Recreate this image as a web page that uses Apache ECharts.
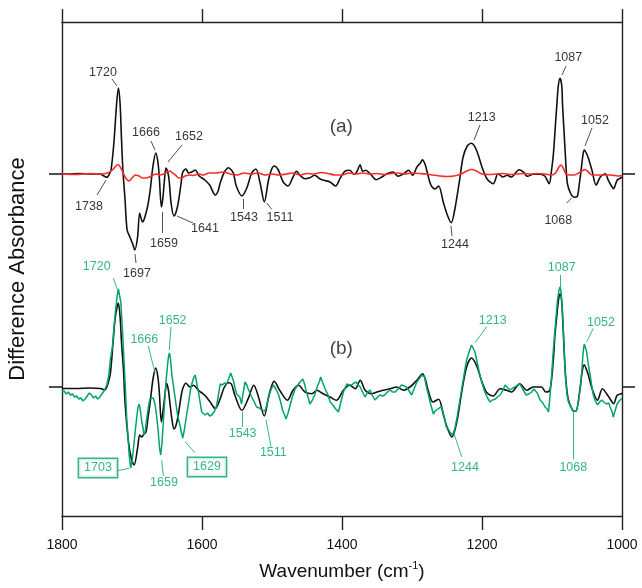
<!DOCTYPE html>
<html><head><meta charset="utf-8">
<script src="https://cdn.jsdelivr.net/npm/echarts@6/dist/echarts.min.js"></script>
<style>html,body{margin:0;padding:0;background:#fff}#c{width:642px;height:588px}</style>
</head><body><div id="c"></div>
<script>
// ---- data (difference absorbance, arbitrary units) ----
const OFFSET_A = 213;   // vertical offset of spectrum set (a)
const OFFSET_B = 0;     // vertical offset of spectrum set (b)
const xTicks = [1800, 1600, 1400, 1200, 1000];

const blackA_wn = [1800,1790,1775,1760,1746,1740,1736,1733,1730,1726,1722,1719.5,1717,1715,1713,1710,1707,1703,1699,1696,1692,1689,1685,1683,1680,1677,1674,1670,1666,1663,1661,1658,1656,1654,1651.5,1649,1647,1644,1640,1637,1634,1630,1627.5,1623,1619,1614,1609.5,1604,1596,1589,1585,1581,1577,1574,1568,1562,1558,1555,1551,1543,1536,1529,1523,1517,1511,1505,1501,1497,1491,1484,1477,1470,1465,1460,1453,1446,1439,1432,1426,1417,1409,1403,1396,1389,1383,1379,1374,1370.5,1366,1360,1351,1343,1336,1327,1320,1312,1305,1299,1293,1288,1285,1281,1279,1273,1267,1262,1255,1249,1244,1239,1232,1227,1221,1215,1208,1200,1193,1184,1177,1170,1164,1158,1147,1141,1135,1127,1117,1110,1104,1101,1098,1095,1093,1091,1088.5,1086,1085,1083,1081,1078,1073,1068,1064,1061,1059,1056,1054,1051,1048,1043,1037,1031,1024,1019.5,1015,1012,1007,1001,1000];
const blackA_val = [0,0,0.5,0,0,-2,-3.3,-1,4,30,70,86,70,35,4,-25,-56,-63,-70,-76,-63,-39,-48,-46,-39,-30,-16,8,21,12,-3,-33,-25,-9,6,2,-6,-30,-42,-38,-29,-10,2,5,1,2.3,4,-2,-6,-11,-17,-21,-17,-9,2,6.3,4,0.7,-12,-22,-14,1,5,-9,-28,-6,4,8,4,-8,-12,-3,2.7,-1.3,-4.7,-3.7,-1.3,-4.7,-6.3,-8,-12,-4.7,2.7,3.7,-0.3,2,9.3,2.7,3.7,0.3,-5.7,-3,0.3,2,-2.3,0.3,3.7,-1.3,7,11,14.3,9,3.7,-11,-15,-12,-29,-42,-48.7,-36,-6,17,28,30.7,24,7,-4.7,-9.7,0.3,-3,-1.3,-3,4.3,2,-2.3,-0.3,-0.3,-2.3,-9.7,2,20,50,70,88,95.7,88,70,45,20,-9.7,-20,-23.3,-22.7,-10,0.3,18,24,21,15.7,4,-11,-3,0.3,-6.3,-12,-14.7,-6.3,-3.7,-3];

const redA_wn = [1800,1780,1760,1745,1735,1728,1723,1720,1716,1712,1708,1704,1700,1695,1690,1685,1680,1675,1670,1665,1660,1655,1650,1646,1642,1638,1633,1629,1624,1618,1612,1605,1598,1590,1580,1570,1560,1550,1540,1530,1520,1510,1500,1490,1480,1470,1460,1450,1440,1430,1420,1410,1400,1390,1380,1370,1360,1350,1340,1330,1320,1310,1300,1290,1280,1270,1260,1250,1240,1230,1222,1215,1208,1200,1190,1180,1170,1160,1150,1140,1130,1120,1110,1100,1095,1090,1087,1084,1080,1075,1068,1062,1057,1053,1048,1043,1035,1025,1018,1010,1005,1000];
const redA_val = [0,-0.5,0.5,0,1,4,8,9.5,6,0,-5,-7,-4,-1,-2,-4,-4,-3,-1,0,-1,0,2,3,1,-1,-4,-4,-2,-1,-1.5,0,-1,1,1,2,0,-1,1,0,1,-1,0,-1,0,1,-1,0.5,0,1.5,0.5,-1,-1,1,0,1,0,0.5,-0.5,0.5,1,0,1,0.5,0,-1,-2,-2.5,-2,0,3,4.5,3,0,-0.5,0,0.5,-0.5,0,0.5,0,0.5,0,-1,1,7,9,6,0,-1,-1,1,3,4.5,2,-1,-1,-1,-1,-1.5,-2,-1.5];

const blackB_wn = [1800,1780,1760,1745,1739,1735,1731,1727,1724,1719.5,1717,1715,1712,1710,1705,1700.5,1697,1692,1689,1686,1683,1680,1677,1674,1670,1666,1663,1661,1658,1655,1653,1650.5,1648,1646,1643,1640,1637,1634,1630,1627.5,1623,1617,1612,1605,1596,1589,1581,1574,1568,1562,1558,1553,1543,1534,1526,1520,1511,1505,1501,1497,1489,1478,1470,1462,1453,1443,1436,1427,1417,1408,1398,1389,1381,1374,1367,1358,1350,1341,1331,1322,1312,1303,1293,1285,1281,1277,1270,1262,1255,1249,1243,1236,1229,1222,1215,1208,1200,1193,1184,1174,1165,1158,1146,1136,1127,1115,1109,1103,1098,1096,1093,1090.5,1088.5,1086.5,1085,1081,1077,1070.5,1066,1060,1057,1054,1051,1048,1042,1035,1028,1022,1017,1012,1007,1001,1000];
const blackB_val = [-1.5,-1.5,-1,-1.5,-3,2,13,45,69,84,70,45,15,-15,-55,-73,-78,-61,-48,-50,-47,-45,-30,-15,8,19,10,-5,-35,-20,-8,3.7,-3,-15,-32,-42,-38,-28,-10,-1.6,3.7,0,1.7,-3.3,-8.3,-14.3,-21.7,-11.7,0,4.3,3,-8.3,-23.3,-11.7,1.7,-8.3,-29,-10,0,5.7,-3.3,-13.3,-3.3,1.7,-5,-6.7,-3.3,-6.7,-10,-13.3,-3.3,1.7,-1.7,6.7,-3.3,-6.7,-5,-3.3,-1.7,0,-3.3,0,6.7,13.3,8,-3.3,-15,-12.3,-28.3,-42,-50,-35,-5,20,29,21.7,5,-5.7,-9,-1.7,-3.3,-5,3.3,-3.3,0,0,-5,-3.3,28,50,72,88,93,88,72,15,-11.7,-23.3,-24.3,-1.7,15,22.3,18,11.7,-3.3,-13.3,-1.7,-6.7,-12,-16.7,-8.3,-6.7,-6];

const greenB_wn = [1800,1797,1794,1791,1788,1785,1782,1779,1776,1773,1770,1767,1764,1761,1758,1755,1752,1749,1746,1743,1740,1736,1733,1731,1728,1726,1723,1721,1719.5,1718,1716,1713.5,1711.5,1709.5,1707.5,1705.5,1704,1702,1700,1698,1695.5,1693.5,1691.5,1689.5,1688,1686,1684,1683,1681,1679,1677,1674.5,1672,1669.5,1667,1665,1662.5,1660.5,1659,1657,1655,1653,1651.5,1649.5,1648,1646.5,1645,1643,1641,1639,1637,1635,1633,1631.5,1629.5,1627.5,1625,1622,1619,1617,1615,1612.5,1610,1608.5,1606.5,1605,1603,1600.5,1598,1595.5,1592,1589,1586,1582,1579,1576.5,1574,1571,1568,1565,1562,1559,1557.5,1555,1552.5,1550.5,1548,1546,1543.5,1541,1538.5,1536,1534,1531.5,1529,1526,1522,1518,1515,1512.5,1510,1507,1504,1501,1498,1494.5,1491,1488,1485,1482,1480,1477,1474,1471,1467,1463,1460,1456,1453,1451,1448,1446,1443,1439,1435,1432,1430.5,1428,1424,1420,1417,1413,1409,1405,1402,1398,1395,1393,1390,1386,1383,1380,1377,1374,1370,1367,1364,1360,1357,1353,1349,1346,1342,1339,1335,1331,1328,1324,1320,1315,1311,1308,1304,1300.5,1297,1293,1289,1286,1284,1282,1280,1276.5,1273,1269.5,1267,1265,1261,1257.5,1254,1251,1248,1246,1244,1242,1239,1236,1232,1229,1225,1222,1218,1215,1212.5,1210,1207,1204,1200,1196,1192,1188.5,1185,1181,1178,1174,1170,1167,1163,1160,1156,1153,1149,1146,1142,1137,1133,1129,1126,1124,1121,1117,1113,1110,1107,1105,1103,1100.5,1098,1096,1094,1092,1090,1088.5,1087,1085,1083,1081,1078.5,1076.5,1073,1069.5,1065,1062,1059,1057,1055.5,1054,1052.5,1050.5,1048,1045.5,1043,1041,1038,1035,1032,1029,1026,1022,1019,1017,1014,1012.5,1010,1007,1004,1001,1000];
const greenB_val = [-5,-4,-7,-5,-8,-7,-10,-9,-12,-11,-14,-12,-9,-6,-8,-11,-9,-12,-10,-7,-4,2,12,27,40,58,80,92,98,96,85,55,28,0,-32,-52,-68,-81,-75,-62,-45,-32,-20,-17,-24,-35,-42,-48,-44,-32,-22,-12,-14,-11,-18,-28,-45,-62,-68,-55,-32,-12,5,20,30,34,28,12,2,-8,-18,-28,-34,-38,-45,-51,-42,-28,-15,-5,2,8,12,8,0,-5,-14,-25,-27,-28,-26,-29,-28,-24,-18,-8,3,2,4,3,8,14,15,6,-2,-7,-5,-10,-17,-5,5,2,-2,-6,-10,-14,-20,-21,-23,-22,-24,-17,-8,-2,2,-2,-7,-14,-23,-28,-32,-26,-18,-10,-2,2,5,8,2,-5,-11,-17,-14,-8,1,6,10,5,-2,-8,-15,-18,-22,-25,-16,-5,0,3,2,2,4,5,2,0,-6,-10,-6,-3,-8,-13,-10,-8,-9,-8,-5,-3,-5,-5,-2,2,1,0,-4,-8,-2,5,9,12,14,10,2,-8,-18,-27,-24,-22,-21,-20,-30,-40,-42,-45,-46,-48,-42,-32,-15,-2,15,27,36,42,40,35,25,15,4,-5,-11,-15,-13,-12,-10,-8,-3,2,-1,-3,-1,0,2,3,-2,-8,-7,-5,-2,0,-6,-13,-16,-20,-22,-25,-10,12,38,55,72,88,97,100,95,75,45,12,-8,-15,-20,-24,-24,-14,2,20,35,43,40,35,22,12,0,-8,-14,-18,-15,-13,-15,-17,-16,-20,-25,-30,-24,-17,-14,-12,-11];

// annotations: [text, labelWn, labelY, leaderFromWn, leaderFromY, leaderToWn, leaderToY]  (y relative to own baseline)
const annotA = [
  ['1720',1741.4,101,1728.6,95,1721.4,88],
  ['1738',1761.4,-33,1750,-21,1737.1,-6],
  ['1697',1692.9,-100,1694.3,-89,1695.7,-80],
  ['1666',1680,41,1672.9,33,1667.1,24],
  ['1652',1618.6,37,1628.6,29,1648.6,12],
  ['1659',1654.3,-70,1657.1,-59,1657.1,-38],
  ['1641',1595.7,-55,1612.9,-49,1635.7,-42],
  ['1543',1540,-44,1541.4,-25,1541.4,-35],
  ['1511',1488.6,-44,1507.6,-29,1500.4,-35.3],
  ['1244',1238.6,-71,1244.3,-52,1242.9,-62],
  ['1213',1200.4,56.3,1202.9,49,1211.4,34],
  ['1087',1076.7,116.7,1080,108,1085.7,99],
  ['1052',1038.6,53,1042.9,46,1052.9,28],
  ['1068',1091,-47,1079,-29,1072,-24]
];
const annotB = [
  ['1720',1750.4,120.3,1726.7,108.7,1721,97.7],
  ['1666',1682.4,47.7,1676.7,41,1667.1,14],
  ['1652',1641.9,66.3,1644.3,60,1646.7,37],
  ['1659',1654.3,-95.7,1657.6,-73,1655.3,-89],
  ['1543',1541.9,-46.3,1541.9,-24.7,1541.9,-39.7],
  ['1511',1498.1,-65.7,1508.6,-33,1501.4,-59.7],
  ['1087',1086.1,119.7,1088.6,112,1088.6,95.3],
  ['1213',1184.7,66.3,1193.3,60.3,1210,44.3],
  ['1052',1030,64.7,1041,58.7,1050.4,45.3],
  ['1244',1224.3,-80.3,1241,-44.7,1229,-69.7],
  ['1068',1069.6,-80.3,1069.6,-24.7,1069.6,-72.3]
];
const boxedB = [
  ['1703',1748.6,-81,1721,-83.7,1703.9,-81.3],
  ['1629',1592.9,-80,1624.3,-54.7,1610,-65.7]
];
const panelLabels = [['(a)',1401,47,OFFSET_A],['(b)',1401,38,OFFSET_B]];

// ---- chart ----
const FONT = '"Liberation Sans", Arial, sans-serif';
const BLACK = '#111111', RED = '#ff2a2a', GREEN = '#00a466';
function pairs(wn, v, off){ return wn.map((w,i)=>[w, v[i]+off]); }
function labelData(list, off){ return list.map(a=>({value:[a[1], a[2]+off], name:a[0]})); }
function leaderData(list, off){ return list.map(a=>({coords:[[a[3],a[4]+off],[a[5],a[6]+off]]})); }

const axisLineStyle = {color:'#222', width:1.4};
const chart = echarts.init(document.getElementById('c'), null, {renderer:'canvas'});
chart.setOption({
  animation:false,
  textStyle:{fontFamily:FONT},
  grid:{left:62, right:20, top:22, bottom:72, containLabel:false, outerBoundsMode:'none'},
  xAxis:[
    {type:'value', min:1000, max:1800, interval:200, inverse:true, position:'bottom',
     axisLine:{show:true, lineStyle:axisLineStyle, onZero:false},
     axisTick:{show:true, length:14, lineStyle:axisLineStyle},
     axisLabel:{show:true, margin:22, fontSize:14, color:'#111', fontFamily:FONT, formatter:v=>String(v)},
     splitLine:{show:false},
     name:'{t|Wavenumber (cm}{s|-1}{t|)}', nameLocation:'middle', nameGap:44,
     nameTextStyle:{rich:{t:{fontSize:19, color:'#111', fontFamily:FONT}, s:{fontSize:11, color:'#111', fontFamily:FONT, padding:[0,0,12,0]}}}},
    {type:'value', min:1000, max:1800, interval:200, inverse:true, position:'top',
     axisLine:{show:true, lineStyle:axisLineStyle, onZero:false},
     axisTick:{show:true, length:13, lineStyle:axisLineStyle},
     axisLabel:{show:false}, splitLine:{show:false}}
  ],
  yAxis:[
    {type:'value', min:-129, max:365, position:'left',
     axisLine:{show:true, lineStyle:axisLineStyle, onZero:false},
     axisTick:{show:true, length:13, customValues:[OFFSET_B, OFFSET_A], lineStyle:{color:'#222', width:1.6}},
     axisLabel:{show:false}, splitLine:{show:false},
     name:'Difference Absorbance', nameLocation:'middle', nameGap:33,
     nameTextStyle:{fontSize:22, color:'#111', fontFamily:FONT}},
    {type:'value', min:-129, max:365, position:'right',
     axisLine:{show:true, lineStyle:axisLineStyle, onZero:false},
     axisTick:{show:true, length:13, customValues:[OFFSET_B, OFFSET_A], lineStyle:{color:'#222', width:1.6}},
     axisLabel:{show:false}, splitLine:{show:false}}
  ],
  series:[
    {type:'line', data:pairs(blackA_wn, blackA_val, OFFSET_A), showSymbol:false, smooth:0.3, lineStyle:{color:BLACK, width:1.6}, z:3},
    {type:'line', data:pairs(redA_wn, redA_val, OFFSET_A), showSymbol:false, smooth:0.3, lineStyle:{color:RED, width:1.6}, z:4},
    {type:'line', data:pairs(blackB_wn, blackB_val, OFFSET_B), showSymbol:false, smooth:0.3, lineStyle:{color:BLACK, width:1.6}, z:3},
    {type:'line', data:pairs(greenB_wn, greenB_val, OFFSET_B), showSymbol:false, smooth:false, lineStyle:{color:GREEN, width:1.5}, z:4},
    {type:'lines', coordinateSystem:'cartesian2d', data:leaderData(annotA, OFFSET_A), lineStyle:{color:'#222', width:0.8, opacity:1}, silent:true, z:5},
    {type:'lines', coordinateSystem:'cartesian2d', data:leaderData(annotB.concat(boxedB), OFFSET_B), lineStyle:{color:GREEN, width:0.8, opacity:1}, silent:true, z:5},
    {type:'scatter', data:labelData(annotA, OFFSET_A), symbolSize:0, silent:true, z:6,
     label:{show:true, position:'inside', formatter:'{b}', fontSize:12.5, color:'#000', fontFamily:FONT}},
    {type:'scatter', data:labelData(annotB, OFFSET_B), symbolSize:0, silent:true, z:6,
     label:{show:true, position:'inside', formatter:'{b}', fontSize:12.5, color:GREEN, fontFamily:FONT}},
    {type:'scatter', data:labelData(boxedB, OFFSET_B), symbolSize:0, silent:true, z:6,
     label:{show:true, position:'inside', formatter:'{b}', fontSize:12.5, color:GREEN, fontFamily:FONT,
            borderColor:GREEN, borderWidth:1.5, padding:[3,5,2,5], backgroundColor:'#fff'}},
    {type:'scatter', data:panelLabels.map(p=>({value:[p[1], p[2]+p[3]], name:p[0]})), symbolSize:0, silent:true, z:6,
     label:{show:true, position:'inside', formatter:'{b}', fontSize:19, color:'#111', fontFamily:FONT}}
  ]
});
</script></body></html>
